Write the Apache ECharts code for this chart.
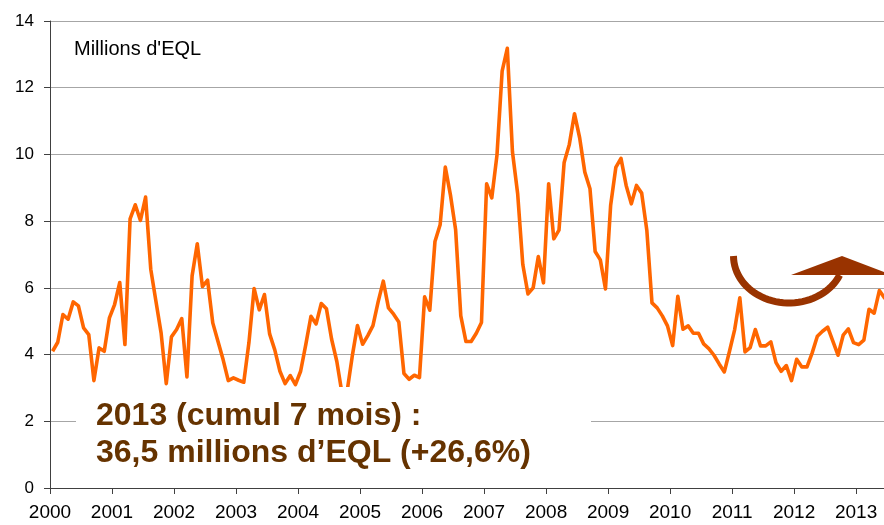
<!DOCTYPE html>
<html>
<head>
<meta charset="utf-8">
<script src="https://cdn.jsdelivr.net/npm/echarts@6/dist/echarts.min.js"></script>
<style>
html,body{margin:0;padding:0;background:#fff;}
#chart{width:884px;height:525px;}
</style>
</head>
<body>
<div id="chart"></div>
<script>
// Monthly values, millions d'EQL (Jan 2000 -> Jul 2013)
const years = ['2000','2001','2002','2003','2004','2005','2006','2007','2008','2009','2010','2011','2012','2013'];
const v2000 = [4.10, 4.37, 5.20, 5.06, 5.58, 5.46, 4.80, 4.60, 3.22, 4.20, 4.10, 5.10];
const v2001 = [5.50, 6.16, 4.30, 8.07, 8.49, 8.02, 8.72, 6.56, 5.60, 4.65, 3.13, 4.53];
const v2002 = [4.75, 5.08, 3.33, 6.36, 7.32, 6.04, 6.23, 4.95, 4.40, 3.85, 3.22, 3.30];
const v2003 = [3.23, 3.17, 4.36, 5.98, 5.34, 5.80, 4.62, 4.14, 3.50, 3.13, 3.37, 3.10];
const v2004 = [3.50, 4.30, 5.15, 4.92, 5.53, 5.37, 4.46, 3.80, 2.85, 2.90, 3.96, 4.87];
const v2005 = [4.31, 4.57, 4.87, 5.58, 6.20, 5.40, 5.21, 4.98, 3.43, 3.26, 3.38, 3.31];
const v2006 = [5.73, 5.33, 7.39, 7.89, 9.62, 8.78, 7.74, 5.16, 4.39, 4.39, 4.64, 4.96];
const v2007 = [9.12, 8.70, 9.98, 12.50, 13.18, 10.07, 8.83, 6.70, 5.82, 6.00, 6.94, 6.15];
const v2008 = [9.12, 7.47, 7.73, 9.76, 10.30, 11.22, 10.50, 9.47, 8.97, 7.09, 6.84, 5.97];
const v2009 = [8.48, 9.61, 9.88, 9.07, 8.52, 9.07, 8.84, 7.73, 5.55, 5.40, 5.16, 4.86];
const v2010 = [4.27, 5.75, 4.76, 4.86, 4.64, 4.64, 4.32, 4.18, 3.98, 3.72, 3.48, 4.10];
const v2011 = [4.75, 5.70, 4.08, 4.21, 4.75, 4.26, 4.26, 4.38, 3.76, 3.50, 3.67, 3.22];
const v2012 = [3.86, 3.63, 3.63, 4.05, 4.55, 4.70, 4.82, 4.40, 3.98, 4.58, 4.77, 4.36];
const v2013 = [4.30, 4.43, 5.36, 5.24, 5.92, 5.70, 5.60];
const yTicks = [0, 2, 4, 6, 8, 10, 12, 14];
const unitLabel = "Millions d'EQL";
const noteLine1 = '2013 (cumul 7 mois) :';
const noteLine2 = '36,5 millions d\u2019EQL (+26,6%)';

const values = [].concat(v2000, v2001, v2002, v2003, v2004, v2005, v2006, v2007,
  v2008, v2009, v2010, v2011, v2012, v2013);
const seriesData = values.map((v, i) => [i + 0.5, v]);
const yearStarts = years.map((y, k) => k * 12);

// decorative curved arrow (half ellipse)
const arcPts = [];
for (let a = 180; a >= 22; a -= 4) {
  const t = a * Math.PI / 180;
  arcPts.push([789 + 55.5 * Math.cos(t), 256 + 47 * Math.sin(t)]);
}

const FONT = '"Liberation Sans", Arial, sans-serif';
const chart = echarts.init(document.getElementById('chart'), null, {renderer: 'canvas'});
chart.setOption({
  animation: false,
  backgroundColor: '#ffffff',
  grid: {left: 50, top: 21, right: 0, height: 467, containLabel: false},
  xAxis: {
    type: 'value', min: 0, max: 161.4, interval: 12,
    axisLine: {show: true, lineStyle: {color: '#404040', width: 1}},
    axisTick: {show: true, length: 6, lineStyle: {color: '#404040'}, customValues: yearStarts},
    splitLine: {show: false},
    axisLabel: {
      fontFamily: FONT, fontSize: 19, color: '#000', margin: 15,
      customValues: yearStarts,
      formatter: v => (years[Math.round(v / 12)] || '')
    }
  },
  yAxis: {
    type: 'value', min: yTicks[0], max: yTicks[yTicks.length - 1], interval: 2,
    axisLine: {show: true, lineStyle: {color: '#404040', width: 1}},
    axisTick: {show: true, length: 6, lineStyle: {color: '#404040'}},
    splitLine: {show: true, lineStyle: {color: '#a6a6a6', width: 1}},
    axisLabel: {fontFamily: FONT, fontSize: 17, color: '#000', margin: 16}
  },
  series: [{
    type: 'line',
    data: seriesData,
    showSymbol: false,
    symbol: 'none',
    clip: true,
    lineStyle: {color: '#ff6600', width: 3.6, join: 'round'},
    z: 3
  }],
  graphic: [
    {type: 'text', z: 50, style: {x: 74, y: 49, text: unitLabel, fill: '#000',
      font: '20px ' + FONT, verticalAlign: 'middle'}},
    {type: 'rect', z: 40, shape: {x: 76, y: 387, width: 515, height: 90},
      style: {fill: '#ffffff'}},
    {type: 'text', z: 50, style: {x: 96, y: 416, text: noteLine1, fill: '#663300',
      font: 'bold 32px ' + FONT, verticalAlign: 'middle'}},
    {type: 'text', z: 50, style: {x: 96, y: 453, text: noteLine2, fill: '#663300',
      font: 'bold 32px ' + FONT, verticalAlign: 'middle'}},
    {type: 'polyline', z: 50, shape: {points: arcPts},
      style: {fill: null, stroke: '#993300', lineWidth: 7}},
    {type: 'polygon', z: 51, shape: {points: [[791, 275], [892, 275], [842, 256]]},
      style: {fill: '#993300'}}
  ]
});
</script>
</body>
</html>
